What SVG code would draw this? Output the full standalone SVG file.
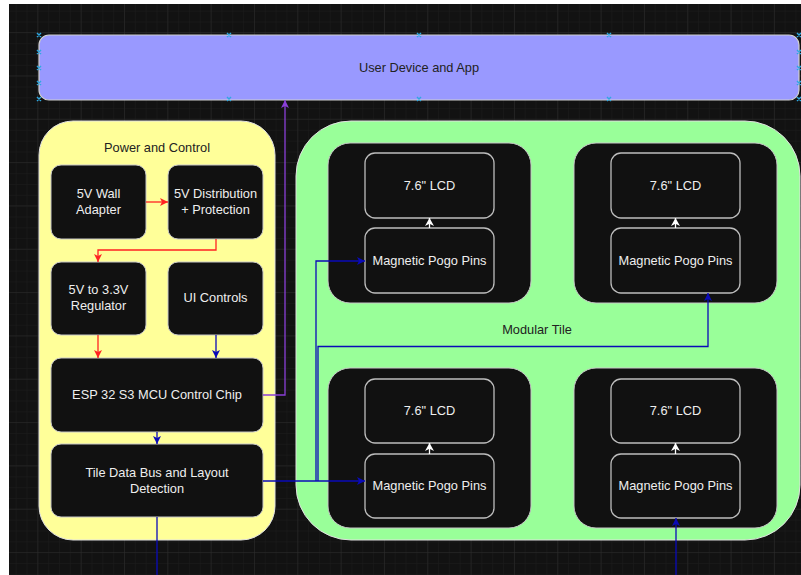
<svg xmlns="http://www.w3.org/2000/svg" width="801" height="575" viewBox="0 0 801 575">
<style>
text{font-family:"Liberation Sans",Arial,sans-serif;font-size:12.8px;text-anchor:middle;dominant-baseline:central}
.lt{fill:#eeeeee}
.dk{fill:#222222}
.blk{fill:#111111;stroke:#c8c8c8;stroke-width:1}
.in{fill:#111111;stroke:#bdbdbd;stroke-width:1.3}
.c{fill:none;stroke-width:1.3}
.r{stroke:#ff2222}
.b{stroke:#0a0ab8}
.p{stroke:#8a3fd8}
.w{stroke:#ffffff}
.h{stroke:#2ea8e0;stroke-width:1.4;fill:none}
</style>
<defs>
<pattern id="gmin" width="10.83" height="10.83" patternUnits="userSpaceOnUse" x="-5" y="-10">
<path d="M10.83 0V10.83M0 10.83H10.83" stroke="#1d1d1d" stroke-width="1" fill="none"/>
</pattern>
<pattern id="gmaj" width="43.33" height="43.33" patternUnits="userSpaceOnUse" x="-5" y="-10.3">
<path d="M43.33 0V43.33M0 43.33H43.33" stroke="#2c2c2c" stroke-width="1" fill="none"/>
</pattern>
<marker id="ar" markerUnits="userSpaceOnUse" markerWidth="10" markerHeight="9" refX="8" refY="4" orient="auto"><path d="M0,0 L8,4 L0,8 L2,4z" fill="#ff2222"/></marker>
<marker id="ab" markerUnits="userSpaceOnUse" markerWidth="10" markerHeight="9" refX="8" refY="4" orient="auto"><path d="M0,0 L8,4 L0,8 L2,4z" fill="#0a0ab8"/></marker>
<marker id="ap" markerUnits="userSpaceOnUse" markerWidth="10" markerHeight="9" refX="8" refY="4" orient="auto"><path d="M0,0 L8,4 L0,8 L2,4z" fill="#8a3fd8"/></marker>
<marker id="aw" markerUnits="userSpaceOnUse" markerWidth="10" markerHeight="10" refX="8" refY="4.5" orient="auto"><path d="M0,0 L8,4.5 L0,9 L2.2,4.5z" fill="#ffffff"/></marker>
</defs>
<rect width="801" height="575" fill="#ffffff"/>
<rect x="9" y="4" width="792" height="571" fill="#121212"/>
<rect x="9" y="4" width="792" height="571" fill="url(#gmin)"/>
<rect x="9" y="4" width="792" height="571" fill="url(#gmaj)"/>

<g id="user-device">
<rect x="39" y="35" width="760" height="65" rx="10" fill="#9999ff" stroke="#d0d0d0" stroke-width="1.2"/>
<text x="419" y="67" class="dk">User Device and App</text>
<path class="h" d="M37,33l4,4m0,-4l-4,4M227,33l4,4m0,-4l-4,4M417,33l4,4m0,-4l-4,4M607,33l4,4m0,-4l-4,4M797,33l4,4m0,-4l-4,4M37,97l4,4m0,-4l-4,4M227,97l4,4m0,-4l-4,4M417,97l4,4m0,-4l-4,4M607,97l4,4m0,-4l-4,4M797,97l4,4m0,-4l-4,4M37,50l4,4m0,-4l-4,4M37,66l4,4m0,-4l-4,4M37,81l4,4m0,-4l-4,4M797,50l4,4m0,-4l-4,4M797,66l4,4m0,-4l-4,4M797,81l4,4m0,-4l-4,4"/>
</g>

<g id="power-and-control">
<rect x="39" y="121" width="236" height="419" rx="34" fill="#ffff99" stroke="#e0e0e0" stroke-width="1"/>
<text x="157" y="147" class="dk">Power and Control</text>
</g>
<g id="wall-adapter"><rect class="blk" x="51" y="165" width="95" height="74" rx="10"/><text class="lt" x="98.5" y="193">5V Wall</text><text class="lt" x="98.5" y="209">Adapter</text></g>
<g id="distribution"><rect class="blk" x="168" y="165" width="95" height="74" rx="10"/><text class="lt" x="215.5" y="193">5V Distribution</text><text class="lt" x="215.5" y="209">+ Protection</text></g>
<g id="regulator"><rect class="blk" x="51" y="262" width="95" height="73" rx="10"/><text class="lt" x="98.5" y="289">5V to 3.3V</text><text class="lt" x="98.5" y="305">Regulator</text></g>
<g id="ui-controls"><rect class="blk" x="168" y="262" width="95" height="73" rx="10"/><text class="lt" x="215.5" y="297">UI Controls</text></g>
<g id="esp32"><rect class="blk" x="51" y="358" width="212" height="74" rx="10"/><text class="lt" x="157" y="394">ESP 32 S3 MCU Control Chip</text></g>
<g id="tile-bus"><rect class="blk" x="51" y="444" width="212" height="73" rx="10"/><text class="lt" x="157" y="472">Tile Data Bus and Layout</text><text class="lt" x="157" y="488">Detection</text></g>

<g id="modular-tile">
<rect x="296" y="121" width="504" height="419" rx="55" fill="#99ff99" stroke="#e0e0e0" stroke-width="1"/>
<text x="537" y="329" class="dk">Modular Tile</text>
</g>
<g id="tile-1"><rect class="blk" x="328" y="143" width="203" height="160" rx="22"/>
<rect class="in" x="365" y="153" width="129" height="65" rx="10"/><text class="lt" x="429.5" y="185">7.6" LCD</text>
<rect class="in" x="365" y="228" width="129" height="65" rx="10"/><text class="lt" x="429.5" y="260">Magnetic Pogo Pins</text></g>
<g id="tile-2"><rect class="blk" x="574" y="143" width="203" height="160" rx="22"/>
<rect class="in" x="611" y="153" width="129" height="65" rx="10"/><text class="lt" x="675.5" y="185">7.6" LCD</text>
<rect class="in" x="611" y="228" width="129" height="65" rx="10"/><text class="lt" x="675.5" y="260">Magnetic Pogo Pins</text></g>
<g id="tile-3"><rect class="blk" x="328" y="368" width="203" height="160" rx="22"/>
<rect class="in" x="365" y="379" width="129" height="64" rx="10"/><text class="lt" x="429.5" y="410">7.6" LCD</text>
<rect class="in" x="365" y="454" width="129" height="64" rx="10"/><text class="lt" x="429.5" y="485">Magnetic Pogo Pins</text></g>
<g id="tile-4"><rect class="blk" x="574" y="368" width="203" height="160" rx="22"/>
<rect class="in" x="611" y="379" width="129" height="64" rx="10"/><text class="lt" x="675.5" y="410">7.6" LCD</text>
<rect class="in" x="611" y="454" width="129" height="64" rx="10"/><text class="lt" x="675.5" y="485">Magnetic Pogo Pins</text></g>

<g id="connectors">
<path class="c r" d="M146,202H168" marker-end="url(#ar)"/>
<path class="c r" d="M216,239V250H98V262" marker-end="url(#ar)"/>
<path class="c r" d="M98,335V358" marker-end="url(#ar)"/>
<path class="c b" d="M216,335V358" marker-end="url(#ab)"/>
<path class="c b" d="M157,432V444" marker-end="url(#ab)"/>
<path class="c b" d="M157,517V575"/>
<path class="c b" d="M263,481H365" marker-end="url(#ab)"/>
<path class="c b" d="M316,481V261H365" marker-end="url(#ab)"/>
<path class="c b" d="M318,481V346.5H708V293" marker-end="url(#ab)"/>
<path class="c b" d="M676,575V518" marker-end="url(#ab)"/>
<path class="c p" d="M263,395H285V100" marker-end="url(#ap)"/>
<path class="c w" d="M429.5,228V218" marker-end="url(#aw)"/>
<path class="c w" d="M675.5,228V218" marker-end="url(#aw)"/>
<path class="c w" d="M429.5,454V443" marker-end="url(#aw)"/>
<path class="c w" d="M675.5,454V443" marker-end="url(#aw)"/>
</g>
</svg>
